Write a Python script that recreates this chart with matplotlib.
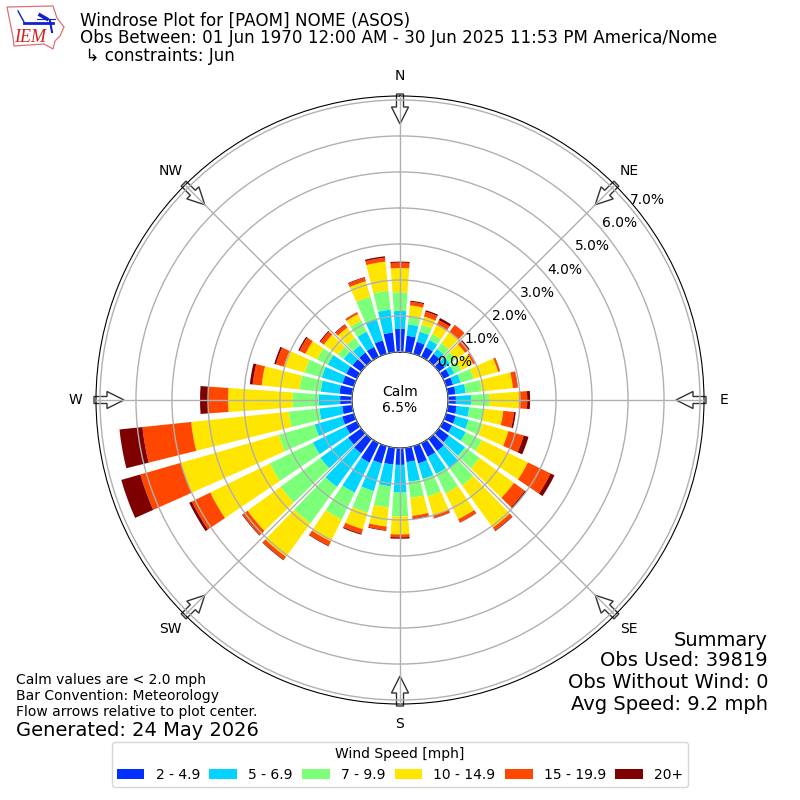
import numpy as np
import matplotlib
matplotlib.use("Agg")
import matplotlib.pyplot as plt
from matplotlib.patches import Polygon, Patch
from matplotlib.lines import Line2D
from matplotlib.transforms import IdentityTransform

# Direction of each bar, degrees from north
directions = list(range(0, 360, 10))

# Cumulative percent frequency at the top of each speed class, by direction
upto_4_9 = [.64, .46, .35, .30, .25, .20, .20, .20, .22, .22, .25, .28, .28, .35, .42, .42, .50, .40,
            .47, .47, .50, .60, .50, .45, .34, .34, .28, .33, .36, .33, .33, .30, .30, .31, .39, .55]
upto_6_9 = [1.14, .78, .64, .52, .42, .38, .35, .42, .50, .64, .60, .65, .70, .90, 1.00, .95, .95, .95,
            1.24, 1.08, 1.30, 1.53, 1.65, 1.40, 1.36, 1.13, .92, .92, .88, .93, .90, .60, .55, .78, 1.00, 1.19]
upto_9_9 = [1.66, .99, .84, .70, .62, .58, .55, .80, .95, 1.14, 1.00, 1.05, 1.20, 1.40, 1.60, 1.55, 1.45, 1.40,
            1.90, 1.67, 1.92, 2.36, 2.90, 2.77, 2.69, 2.17, 1.77, 1.65, 1.47, 1.42, 1.23, .80, .80, 1.12, 1.65, 1.72]
upto_14_9 = [2.33, 1.31, 1.08, .98, 1.00, .90, .93, 1.50, 1.82, 1.97, 1.55, 1.80, 2.62, 2.58, 3.05, 2.35, 2.00, 1.90,
             2.40, 2.20, 2.40, 3.04, 4.05, 3.90, 4.53, 5.00, 4.50, 3.44, 2.53, 2.02, 1.59, 1.28, 1.15, 1.32, 2.10, 2.53]
upto_19_9 = [2.48, 1.41, 1.22, 1.13, 1.25, 1.03, 1.00, 1.55, 1.95, 2.20, 1.85, 2.24, 3.32, 2.95, 3.15, 2.45, 2.08, 1.97,
             2.48, 2.30, 2.53, 3.17, 4.15, 4.07, 5.10, 6.17, 5.86, 3.98, 2.78, 2.25, 1.77, 1.40, 1.25, 1.37, 2.20, 2.64]
upto_max = [2.51, 1.44, 1.26, 1.20, 1.25, 1.06, 1.01, 1.56, 1.96, 2.28, 1.90, 2.38, 3.44, 3.00, 3.17, 2.46, 2.09, 2.00,
            2.52, 2.32, 2.56, 3.19, 4.17, 4.09, 5.18, 6.72, 6.50, 4.22, 2.86, 2.30, 1.81, 1.43, 1.27, 1.38, 2.22, 2.68]

speed_labels = ["2 - 4.9", "5 - 6.9", "7 - 9.9", "10 - 14.9", "15 - 19.9", "20+"]
speed_colors = ["#002fff", "#00d4ff", "#7cff79", "#ffe600", "#ff4700", "#7f0000"]
compass = ["N", "NE", "E", "SE", "S", "SW", "W", "NW"]
ring_values = [0, 1, 2, 3, 4, 5, 6, 7]

title_lines = ["Windrose Plot for [PAOM] NOME (ASOS)",
               "Obs Between: 01 Jun 1970 12:00 AM - 30 Jun 2025 11:53 PM America/Nome",
               " \u21b3 constraints: Jun"]
summary_lines = ["Summary", "Obs Used: 39819", "Obs Without Wind: 0", "Avg Speed: 9.2 mph"]
note_lines = ["Calm values are < 2.0 mph", "Bar Convention: Meteorology",
              "Flow arrows relative to plot center."]

fig = plt.figure(figsize=(8, 8), dpi=100)
ax = fig.add_axes([0.12, 0.12, 0.76, 0.76], projection="polar")
ax.set_theta_zero_location("N")
ax.set_theta_direction(-1)

theta = np.deg2rad(directions)
series = [upto_4_9, upto_6_9, upto_9_9, upto_14_9, upto_19_9, upto_max]
bottom = np.zeros(len(directions))
for tops, color in zip(series, speed_colors):
    tops = np.array(tops)
    ax.bar(theta, tops - bottom, width=np.deg2rad(8), bottom=bottom, color=color,
           linewidth=0, align="center")
    bottom = tops

ax.set_rorigin(-1.333)
ax.set_ylim(0, 7.11)
ax.set_axisbelow(False)
ax.set_xticks(np.deg2rad(np.arange(0, 360, 45)))
ax.set_xticklabels(compass, fontsize=10)
ax.tick_params(axis="x", pad=4)
ax.set_yticks(ring_values)
ax.set_yticklabels(["%.1f%%" % v for v in ring_values], fontsize=10)
ax.set_rlabel_position(50)
ax.grid(True, color="#b0b0b0", linewidth=1)

# Block arrows pointing to the plot centre, drawn in pixels from the centre
cx, cy = ax.transAxes.transform((0.5, 0.5))
arrow_shape = np.array([(306, -3.5), (306, 3.5), (293, 3.5), (293, 8.5), (276, 0), (293, -8.5), (293, -3.5)])
for d in np.arange(0, 360, 45):
    a = np.deg2rad(d)
    ux, uy = np.sin(a), np.cos(a)
    vx, vy = np.cos(a), -np.sin(a)
    pts = [(cx + r * ux + s * vx, cy + r * uy + s * vy) for r, s in arrow_shape]
    ax.add_artist(Polygon(pts, closed=True, fc="white", ec="#333333", lw=1,
                          transform=IdentityTransform(), clip_on=False, zorder=2))

ax.text(0.5, 0.5, "Calm\n6.5%", transform=ax.transAxes, ha="center", va="center", fontsize=10)

def px(x, y):
    return (x / 800, 1 - y / 800)

for line, y in zip(title_lines, [21, 38, 56]):
    fig.text(*px(80, y), line, fontsize=12.02, ha="left", va="center")
for line, y in zip(summary_lines, [640, 661, 683, 705]):
    fig.text(*px(768, y), line, fontsize=14, ha="right", va="center")
for line, y in zip(note_lines, [680, 696, 712]):
    fig.text(*px(16, y), line, fontsize=10, ha="left", va="center")
fig.text(*px(16, 730), "Generated: 24 May 2026", fontsize=14, ha="left", va="center")

handles = [Patch(facecolor=c, label=l) for c, l in zip(speed_colors, speed_labels)]
fig.legend(handles=handles, title="Wind Speed [mph]", ncol=6, loc="lower center",
           bbox_to_anchor=(0.5, 0.008), fontsize=10, title_fontsize=10,
           columnspacing=0.67, borderpad=0.35)

# Logo sketch
outline = [(7, 7), (53, 6), (57, 18), (64, 27), (60, 36), (55, 41), (53, 49), (44, 44),
           (14, 46), (13, 37), (10, 22)]
fig.add_artist(Polygon([px(*p) for p in outline], closed=True, fill=False, ec="#e07070", lw=0.9,
                       transform=fig.transFigure))
blue = "#1020d0"
for (a, b, w) in [((24, 23), (53, 23), 2), ((18, 11), (24, 22), 1), ((40, 15), (47, 19), 2.5),
                  ((37, 19), (55, 19), 0.8), ((50, 21), (52, 32), 1.5)]:
    fig.add_artist(Line2D(*zip(px(*a), px(*b)), color=blue, lw=w, transform=fig.transFigure))
fig.text(*px(30, 38), "IEM", color="#d02020", fontsize=13, style="italic", family="Liberation Serif",
         ha="center", va="center")

fig.savefig("out.png", dpi=100)
